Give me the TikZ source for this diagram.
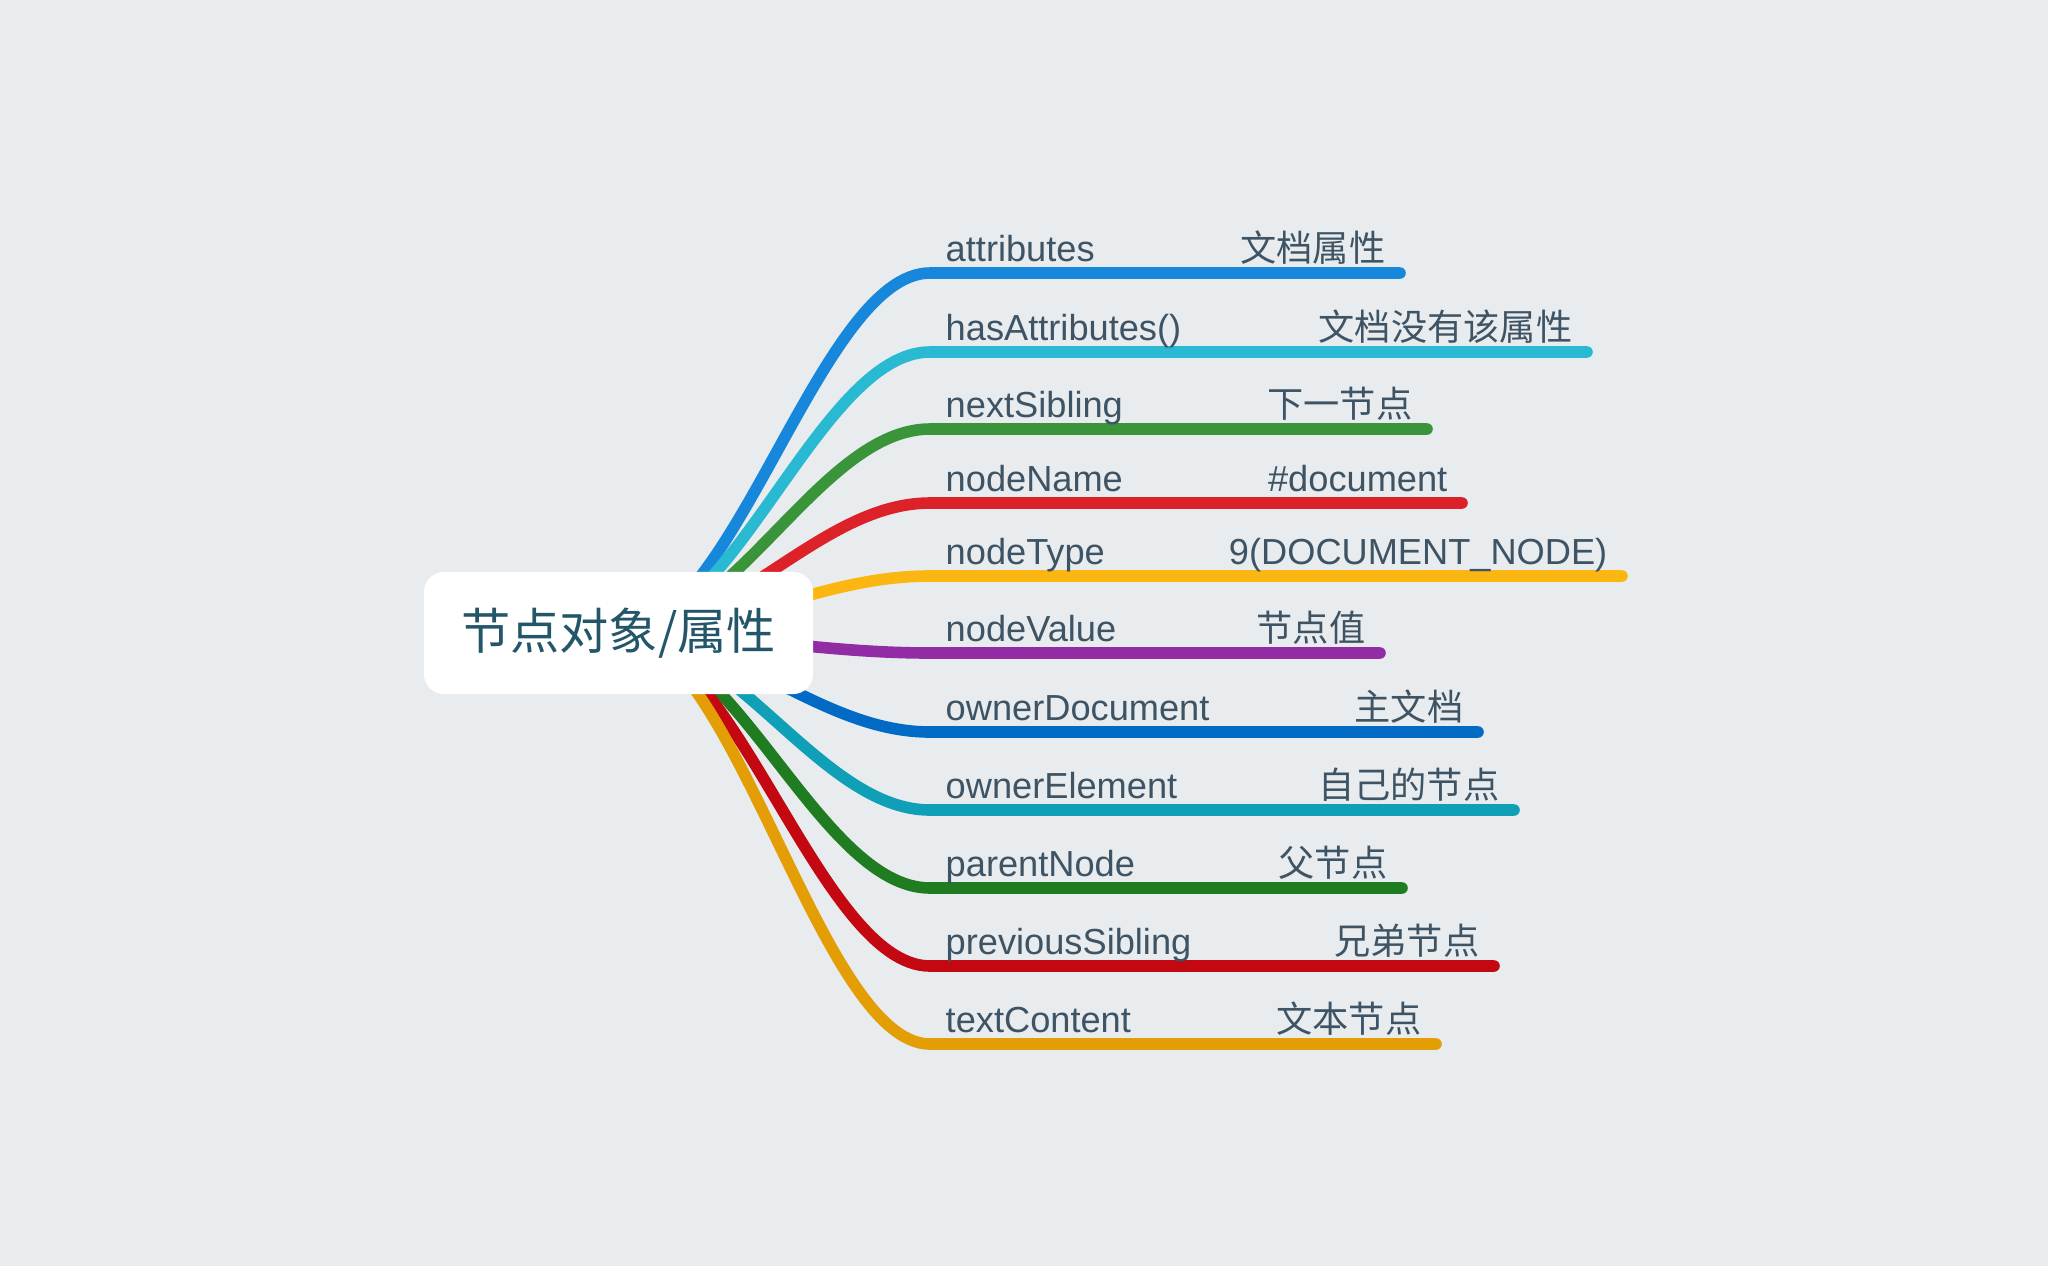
\documentclass[tikz,border=0pt]{standalone}
\usepackage{fontspec}
\setmainfont{Liberation Sans}
\newfontfamily\cjk{Noto Sans CJK SC}
\usetikzlibrary{backgrounds}
\definecolor{bgc}{RGB}{232,236,239}
\definecolor{ink}{RGB}{62,84,100}
\definecolor{roottxt}{RGB}{36,86,106}
\definecolor{cattr}{RGB}{23,135,220}
\definecolor{chas}{RGB}{41,185,211}
\definecolor{cnext}{RGB}{58,149,58}
\definecolor{cname}{RGB}{220,33,40}
\definecolor{ctype}{RGB}{252,182,17}
\definecolor{cvalue}{RGB}{146,44,165}
\definecolor{cdoc}{RGB}{0,106,196}
\definecolor{celem}{RGB}{15,160,184}
\definecolor{cparent}{RGB}{32,124,32}
\definecolor{cprev}{RGB}{195,8,18}
\definecolor{ctext}{RGB}{227,158,6}
\begin{document}
\begin{tikzpicture}[x=0.01cm,y=-0.01cm,
  attrname/.style={anchor=south west,inner xsep=0.15cm,inner ysep=0.11cm,text depth=0pt,text=ink,font=\fontsize{10.3}{12}\selectfont},
  attrval/.style={attrname,anchor=south east,inner xsep=0.14cm},
  branch/.style={line width=3.3pt,line cap=round,out=0,in=180,out distance=1.15cm,in distance=1.1cm}]
\useasboundingbox (0,0) rectangle (2048,1266);
\node[fill=white,rounded corners=0.2cm,minimum width=3.89cm,minimum height=1.22cm,text=roottxt,font=\cjk\fontsize{14}{17}\selectfont] (root) at (618.5,633) {节点对象/属性};
\path
(930,273)  node[attrname] (k1) {attributes}
(1400,273) node[attrval]  (v1) {\cjk 文档属性}
(930,352)  node[attrname] (k2) {hasAttributes()}
(1587,352) node[attrval]  (v2) {\cjk 文档没有该属性}
(930,429)  node[attrname] (k3) {nextSibling}
(1427,429) node[attrval]  (v3) {\cjk 下一节点}
(930,503)  node[attrname] (k4) {nodeName}
(1462,503) node[attrval]  (v4) {\#document}
(930,576)  node[attrname] (k5) {nodeType}
(1622,576) node[attrval]  (v5) {9(DOCUMENT\_NODE)}
(930,653)  node[attrname] (k6) {nodeValue}
(1380,653) node[attrval]  (v6) {\cjk 节点值}
(930,732)  node[attrname] (k7) {ownerDocument}
(1478,732) node[attrval]  (v7) {\cjk 主文档}
(930,810)  node[attrname] (k8) {ownerElement}
(1514,810) node[attrval]  (v8) {\cjk 自己的节点}
(930,888)  node[attrname] (k9) {parentNode}
(1402,888) node[attrval]  (v9) {\cjk 父节点}
(930,966)  node[attrname] (k10) {previousSibling}
(1494,966) node[attrval]  (v10) {\cjk 兄弟节点}
(930,1044) node[attrname] (k11) {textContent}
(1436,1044) node[attrval] (v11) {\cjk 文本节点};

\begin{pgfonlayer}{background}
\fill[bgc] (0,0) rectangle (2048,1266);
\draw[branch,cattr]   (root.center) to (k1.south west) -- (v1.south east);
\draw[branch,chas]    (root.center) to (k2.south west) -- (v2.south east);
\draw[branch,cnext]   (root.center) to (k3.south west) -- (v3.south east);
\draw[branch,cname]   (root.center) to (k4.south west) -- (v4.south east);
\draw[branch,ctype]   (root.center) to (k5.south west) -- (v5.south east);
\draw[branch,cvalue]  (root.center) to (k6.south west) -- (v6.south east);
\draw[branch,cdoc]    (root.center) to (k7.south west) -- (v7.south east);
\draw[branch,celem]   (root.center) to (k8.south west) -- (v8.south east);
\draw[branch,cparent] (root.center) to (k9.south west) -- (v9.south east);
\draw[branch,cprev]   (root.center) to (k10.south west) -- (v10.south east);
\draw[branch,ctext]   (root.center) to (k11.south west) -- (v11.south east);
\end{pgfonlayer}
\end{tikzpicture}
\end{document}
